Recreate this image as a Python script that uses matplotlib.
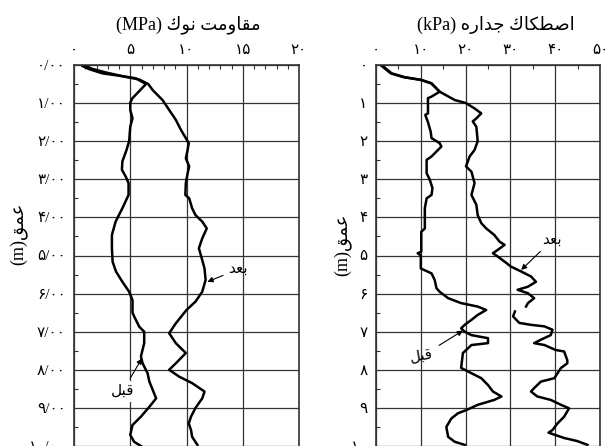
import matplotlib
matplotlib.use('Agg')
import matplotlib.pyplot as plt
import numpy as np
from matplotlib.ticker import MultipleLocator

plt.rcParams['font.family'] = ['Liberation Serif', 'DejaVu Sans']

FA_DIGITS = '۰۱۲۳۴۵۶۷۸۹'


def fa(s):
    # latin digits -> persian digits
    return ''.join(FA_DIGITS[int(c)] if c.isdigit() else c for c in s)


# persian words, already shaped and in visual (left-to-right) order
MOGHAVEMAT = '\uFE96\uFEE3\uFEED\uFE8E\uFED8\uFEE3'
NOK = '\uFED9\uFEEE\uFEE7'
ESTEKAK = '\uFED9\uFE8E\uFEDC\uFEC4\uFEBB\uFE8D'
JEDARE = '\uFEE9\uFEAD\uFE8D\uFEAA\uFE9F'
OMGH = '\uFED6\uFEE4\uFECB'
BAAD = '\uFEAA\uFECC\uFE91'
GHABL = '\uFEDE\uFE92\uFED7'

# ---- cone tip resistance (MPa) ----
qc_before_depth = [0.03, 0.11, 0.22, 0.28, 0.35, 0.5, 0.87, 0.99, 1.18, 1.4, 1.62, 2.0, 2.23, 2.53, 2.75,
                   2.93, 3.1, 3.41, 3.76, 4.11, 4.46, 4.81, 5.16, 5.42, 5.69, 5.95, 6.17, 6.5, 6.6, 6.87,
                   7.0, 7.3, 7.65, 7.83, 8.09, 8.31, 8.75, 8.97, 9.23, 9.45, 9.71, 9.89, 10.0]
qc_before = [0.77, 1.36, 2.54, 4.0, 5.5, 6.4, 5.2, 5.0, 5.0, 5.2, 5.0, 4.9, 4.67, 4.3, 4.26,
             4.6, 4.85, 4.85, 4.3, 3.7, 3.37, 3.37, 3.43, 3.73, 4.3, 4.9, 5.2, 5.2, 5.35, 5.8,
             6.24, 6.24, 5.95, 6.1, 6.54, 6.7, 7.3, 6.7, 5.95, 5.2, 5.0, 5.35, 5.95]

qc_after_depth = [0.0, 0.1, 0.2, 0.3, 0.38, 0.5, 0.66, 0.92, 1.18, 1.44, 1.7, 1.92, 2.05, 2.23, 2.45,
                  2.66, 2.84, 3.1, 3.41, 3.5, 3.76, 3.94, 4.11, 4.29, 4.55, 4.81, 5.12, 5.34, 5.64,
                  5.95, 6.21, 6.43, 6.78, 7.04, 7.3, 7.56, 7.83, 8.0, 8.18, 8.35, 8.57, 8.75, 9.0,
                  9.23, 9.41, 9.58, 9.76, 9.97]
qc_after = [0.9, 1.6, 2.9, 4.4, 5.8, 6.6, 7.0, 7.87, 8.46, 9.05, 9.5, 9.94, 10.2, 10.1, 9.94,
            10.24, 10.1, 9.94, 9.9, 10.24, 10.5, 10.8, 11.4, 11.8, 11.4, 11.1, 11.4, 11.6, 11.7,
            11.4, 10.8, 10.0, 9.05, 8.46, 9.05, 9.94, 9.05, 8.46, 9.35, 10.5, 11.6, 11.4, 10.8,
            10.4, 10.2, 10.4, 10.5, 10.97]

# ---- sleeve friction (kPa) ----
fs_before_depth = [0.0, 0.22, 0.32, 0.39, 0.48, 0.7, 0.83, 0.87, 1.27, 1.31, 1.5, 1.75, 1.92, 2.05, 2.14,
                   2.27, 2.4, 2.49, 2.84, 3.01, 3.23, 3.41, 3.5, 3.76, 4.29, 4.38, 4.9, 4.94, 5.0, 5.34,
                   5.47, 5.64, 5.86, 5.95, 6.12, 6.25, 6.34, 6.43, 6.56, 6.69, 6.82, 6.91, 7.0, 7.09,
                   7.17, 7.3, 7.35, 7.56, 7.95, 8.09, 8.22, 8.4, 8.57, 8.7, 8.79, 8.92, 9.06, 9.14,
                   9.28, 9.5, 9.76, 9.89, 9.97]
fs_before = [1.26, 3.5, 6.4, 10.1, 12.4, 14.2, 12.4, 11.6, 11.6, 11.0, 11.6, 12.2, 12.4, 14.2, 14.6,
             13.5, 12.4, 11.3, 11.3, 12.0, 12.6, 12.4, 11.3, 10.9, 10.9, 10.1, 10.1, 9.3, 10.0, 10.0,
             12.4, 13.1, 13.5, 14.2, 16.1, 19.0, 22.7, 24.6, 22.7, 21.3, 19.8, 19.0, 19.8, 21.3,
             25.0, 25.0, 21.3, 19.4, 19.0, 21.3, 23.5, 25.0, 26.1, 28.0, 26.4, 22.7, 20.1, 18.3,
             16.8, 15.7, 16.1, 17.6, 19.8]

fs_after_depth = [0.0, 0.22, 0.32, 0.39, 0.48, 0.7, 0.92, 1.0, 1.14, 1.27, 1.4, 1.48, 1.62, 2.0, 2.23,
                  2.4, 2.66, 2.8, 3.1, 3.41, 3.67, 3.94, 4.15, 4.29, 4.46, 4.64, 4.72, 4.85, 4.94,
                  5.03, 5.16, 5.29, 5.42, 5.55, 5.69, 5.82, 5.9, 5.99, 6.12, 6.25, 6.34, np.nan,
                  6.47, 6.6, 6.77, 6.82, 6.86, 6.95, 7.09, 7.21, 7.3, 7.35, 7.48, 7.52, 7.75, 7.83,
                  7.95, 8.22, 8.31, 8.48, 8.57, 8.7, 8.79, 8.92, 9.01, 9.23, 9.41, 9.58, 9.65, 9.79,
                  9.87, 9.97]
fs_after = [1.0, 3.3, 6.2, 9.9, 12.3, 14.2, 17.6, 20.1, 22.0, 23.5, 22.4, 21.6, 22.4, 22.7, 22.0,
            20.9, 20.1, 21.3, 22.0, 21.3, 22.4, 22.7, 23.5, 24.6, 26.4, 27.6, 28.7, 27.2, 26.1,
            27.2, 28.7, 30.1, 32.4, 34.6, 35.7, 33.9, 31.6, 33.9, 35.3, 33.9, 33.5, np.nan,
            31.0, 30.6, 32.0, 34.6, 37.6, 39.4, 39.0, 36.8, 35.3, 37.6, 40.1, 42.0, 42.7, 42.7,
            41.3, 39.8, 36.8, 35.3, 34.6, 36.0, 39.0, 41.3, 43.1, 42.0, 40.5, 39.4, 38.5, 42.0,
            44.9, 47.2]

qc_ticks = [0, 5, 10, 15, 20]
fs_ticks = [0, 10, 20, 30, 40, 50]
depth_ticks = list(range(11))


def setup_axis(ax, xticks, xminor, ylabels):
    ax.set_xlim(xticks[0], xticks[-1])
    ax.set_ylim(10, 0)
    ax.xaxis.tick_top()
    ax.set_xticks(xticks)
    ax.set_xticklabels([fa(str(t)) for t in xticks], fontsize=11)
    ax.set_yticks(depth_ticks)
    ax.set_yticklabels(ylabels, fontsize=11)
    ax.xaxis.set_minor_locator(MultipleLocator(xminor))
    ax.yaxis.set_minor_locator(MultipleLocator(0.5))
    ax.tick_params(which='major', length=0, pad=6)
    ax.tick_params(which='minor', direction='in', length=3, width=0.8, color='#333')
    ax.tick_params(axis='x', which='minor', top=True, bottom=False)
    ax.tick_params(axis='y', which='minor', left=True, right=False)
    ax.grid(True, which='major', color='#333', lw=0.9)
    for s in ['top', 'left', 'right']:
        ax.spines[s].set_linewidth(1.2)
        ax.spines[s].set_color('#333')
    ax.spines['bottom'].set_visible(False)


fig = plt.figure(figsize=(6.07, 4.46), dpi=100)
W, H = 607, 446

ax1 = fig.add_axes([74 / W, 0, 225 / W, 381 / H])
ax2 = fig.add_axes([376 / W, 0, 224 / W, 381 / H])

setup_axis(ax1, qc_ticks, 1, [fa(f'{d}/00') for d in depth_ticks])
setup_axis(ax2, fs_ticks, 5, [fa(str(d)) for d in depth_ticks])

ax1.plot(qc_before, qc_before_depth, color='k', lw=1.8)
ax1.plot(qc_after, qc_after_depth, color='k', lw=1.8)
ax2.plot(fs_before, fs_before_depth, color='k', lw=1.8)
ax2.plot(fs_after, fs_after_depth, color='k', lw=1.8)

arrow = dict(arrowstyle='-|>', lw=0.8, color='k', mutation_scale=8, shrinkA=2, shrinkB=0)
ax1.annotate(BAAD, xy=(11.86, 5.69), xytext=(14.6, 5.36), fontsize=11, ha='center', va='center',
             arrowprops=arrow)
ax1.annotate(GHABL, xy=(6.04, 7.7), xytext=(4.3, 8.57), fontsize=11, ha='center', va='center',
             arrowprops=arrow, bbox=dict(fc='white', ec='none', pad=3))
ax2.annotate(BAAD, xy=(32.4, 5.38), xytext=(39.3, 4.6), fontsize=11, ha='center', va='center',
             arrowprops=arrow)
ax2.annotate(GHABL, xy=(19.4, 6.97), xytext=(10.1, 7.65), fontsize=11, ha='center', va='center',
             arrowprops=arrow, rotation=10)

fig.text(188 / W, 1 - 25 / H, '(MPa) ' + NOK + ' ' + MOGHAVEMAT, ha='center', va='center', fontsize=13)
fig.text(496 / W, 1 - 25 / H, '(kPa) ' + JEDARE + ' ' + ESTEKAK, ha='center', va='center', fontsize=13)
fig.text(18 / W, 1 - 234 / H, '(m)' + OMGH, rotation=90, ha='center', va='center', fontsize=13)
fig.text(342 / W, 1 - 245 / H, '(m)' + OMGH, rotation=90, ha='center', va='center', fontsize=13)

fig.savefig('out.png', dpi=100)
